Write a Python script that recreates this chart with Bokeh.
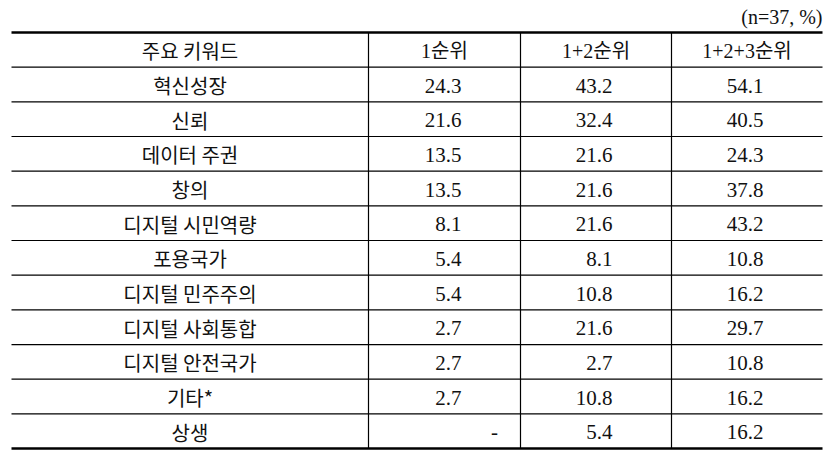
from bokeh.plotting import figure
from bokeh.models import Range1d
from bokeh.core.properties import value
from bokeh.embed import file_html
from bokeh.resources import INLINE

# ---- data ----
keywords = ["혁신성장", "신뢰", "데이터 주권", "창의", "디지털 시민역량", "포용국가",
            "디지털 민주주의", "디지털 사회통합", "디지털 안전국가", "기타*", "상생"]
rank1 = [24.3, 21.6, 13.5, 13.5, 8.1, 5.4, 5.4, 2.7, 2.7, 2.7, None]
rank12 = [43.2, 32.4, 21.6, 21.6, 21.6, 8.1, 10.8, 21.6, 2.7, 10.8, 5.4]
rank123 = [54.1, 40.5, 24.3, 37.8, 43.2, 10.8, 16.2, 29.7, 10.8, 16.2, 16.2]
headers = ["주요 키워드", "1순위", "1+2순위", "1+2+3순위"]
note = "(n=37, %)"

# ---- layout ----
W, H = 828, 471
col_edges = [11, 368, 520, 671, 822]
value_right = [461, 612, 763]
top, row_h = 32, 34.67
nrows = len(keywords) + 1
bottom = top + nrows * row_h
FONT = value("Liberation Serif, Noto Sans CJK KR")
KFONT = value("Noto Sans CJK KR")
TXT = "#111111"

p = figure(width=W, height=H, output_backend="svg", toolbar_location=None,
           x_range=Range1d(0, W), y_range=Range1d(H, 0),
           min_border=0, outline_line_color=None, background_fill_color="white",
           border_fill_color="white")
p.axis.visible = False
p.grid.visible = False

# thin horizontal lines
ys = [top + i * row_h for i in range(1, nrows)]
p.segment(x0=[col_edges[0]] * len(ys), x1=[col_edges[-1]] * len(ys), y0=ys, y1=ys,
          line_color="black", line_width=1.2)
# thick top / bottom
p.segment(x0=[col_edges[0]] * 2, x1=[col_edges[-1]] * 2, y0=[top, bottom], y1=[top, bottom],
          line_color="black", line_width=2.5)
# vertical dividers
vx = col_edges[1:-1]
p.segment(x0=vx, x1=vx, y0=[top] * len(vx), y1=[bottom] * len(vx),
          line_color="black", line_width=1.2)

# headers
centers = [(col_edges[i] + col_edges[i + 1]) / 2 for i in range(4)]
hy = top + row_h / 2 + 1
p.text(x=[centers[0]], y=[hy], text=[headers[0]], text_font=KFONT, text_font_size="20px",
       text_align="center", text_baseline="middle", text_color=TXT)
p.text(x=centers[1:], y=[hy] * 3, text=headers[1:], text_font=FONT, text_font_size="20px",
       text_align="center", text_baseline="middle", text_color=TXT)

# keyword labels
rys = [top + (i + 1.5) * row_h + 1 for i in range(len(keywords))]
p.text(x=[centers[0]] * len(keywords), y=rys, text=keywords, text_font=KFONT,
       text_font_size="20px", text_align="center", text_baseline="middle", text_color=TXT)

# numeric columns (right aligned)
for ci, series in enumerate([rank1, rank12, rank123]):
    right = value_right[ci]
    xs, yy, tt = [], [], []
    dx, dy, dt = [], [], []
    for i, v in enumerate(series):
        if v is None:
            dx.append(right + 33); dy.append(rys[i]); dt.append("-")
        else:
            xs.append(right); yy.append(rys[i]); tt.append(f"{v:.1f}")
    p.text(x=xs, y=yy, text=tt, text_font=FONT, text_font_size="21px",
           text_align="right", text_baseline="middle", text_color=TXT)
    if dt:
        p.text(x=dx, y=dy, text=dt, text_font=FONT, text_font_size="21px",
               text_align="center", text_baseline="middle", text_color=TXT)

# note
p.text(x=[col_edges[-1]], y=[16], text=[note], text_font=FONT, text_font_size="20px",
       text_align="right", text_baseline="middle", text_color=TXT)

open("out.html", "w").write(file_html(p, INLINE))
